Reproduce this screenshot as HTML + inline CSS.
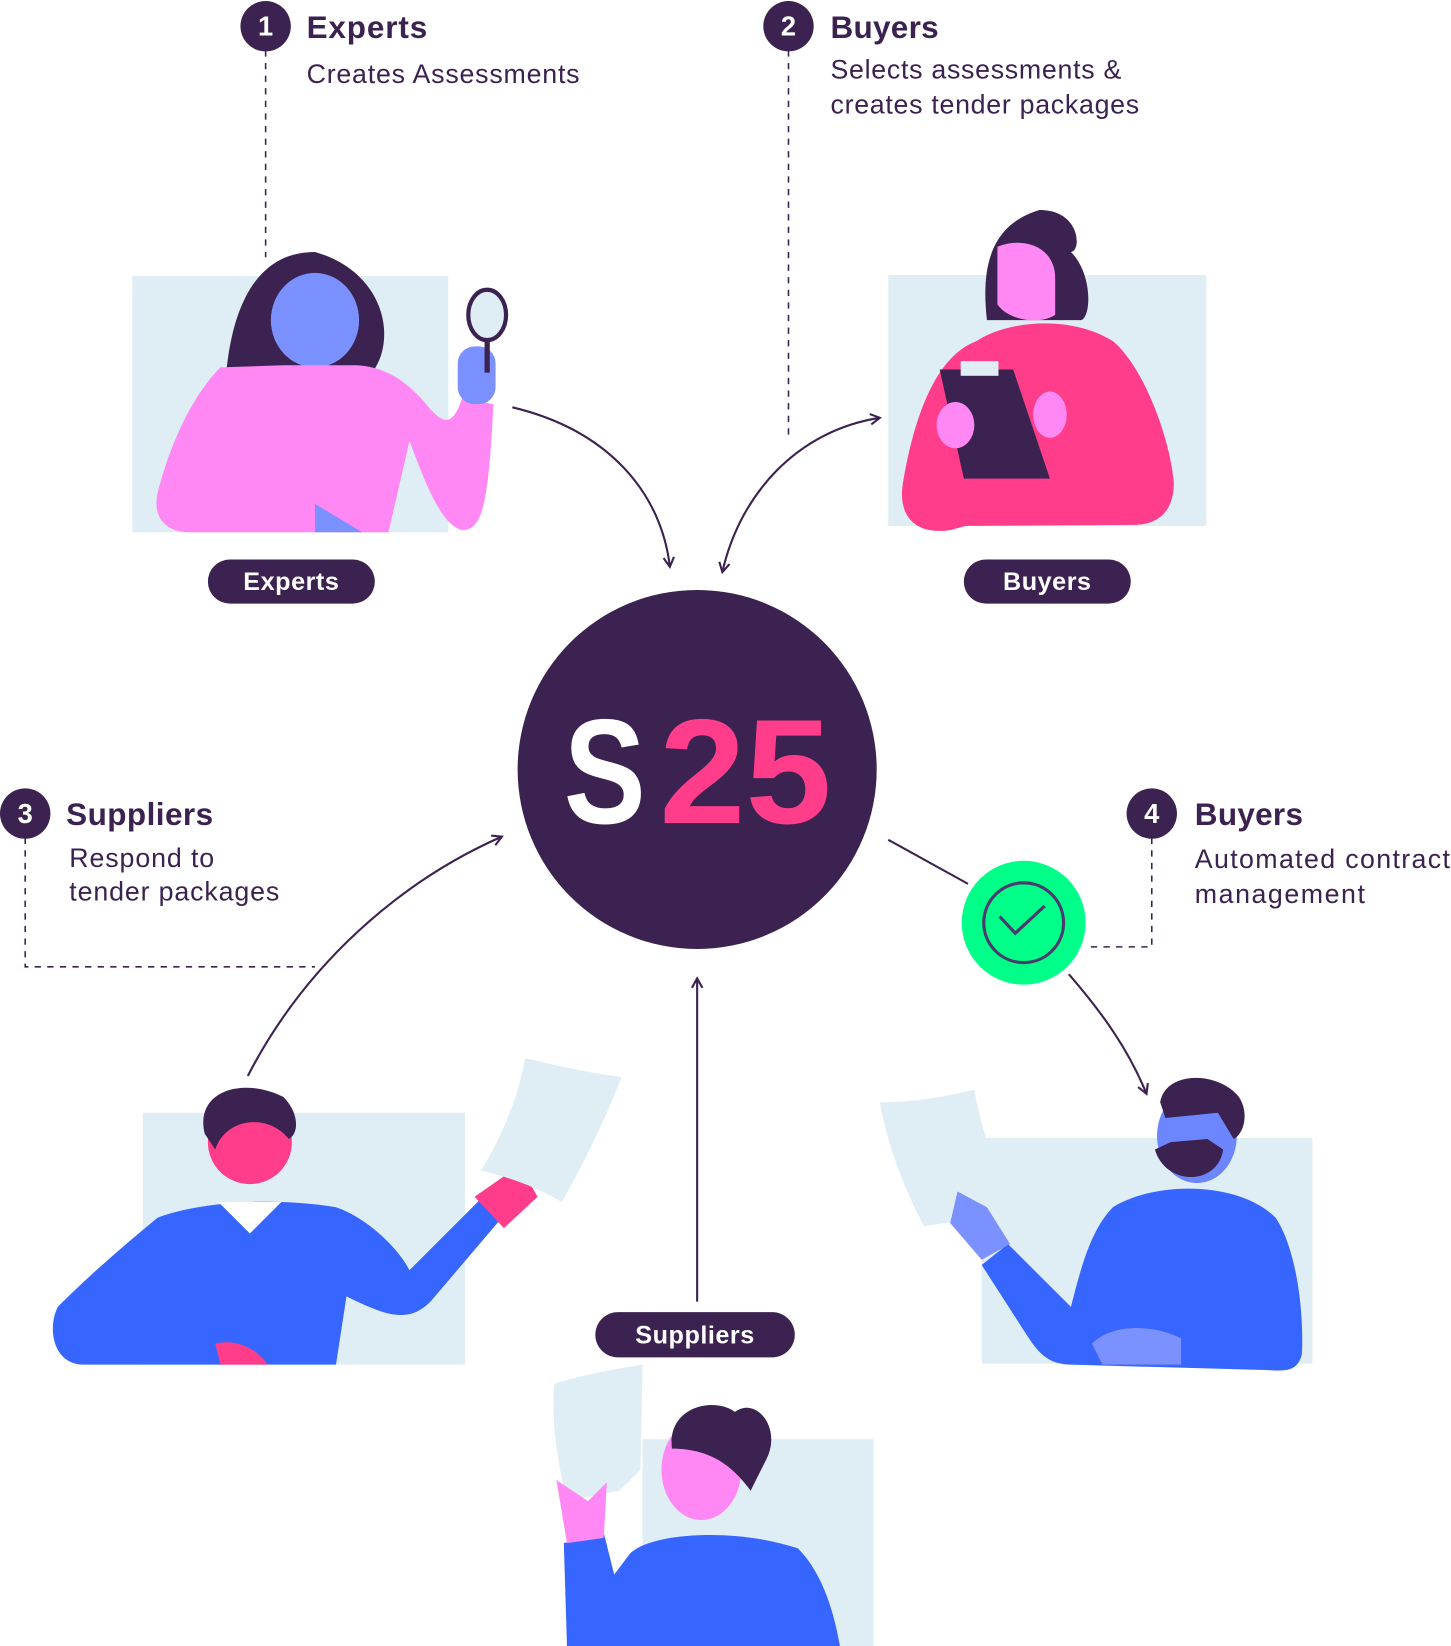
<!DOCTYPE html>
<html><head><meta charset="utf-8"><style>
html,body{margin:0;padding:0;background:#fff;width:1451px;height:1646px;overflow:hidden}
svg{display:block}
text{font-family:"Liberation Sans",sans-serif;fill:#3c2250}
</style></head><body>
<svg width="1451" height="1646" viewBox="0 0 1382 1568" preserveAspectRatio="none" xmlns="http://www.w3.org/2000/svg">
<defs>
<marker id="a" viewBox="0 0 12 12" refX="10" refY="6" markerWidth="12" markerHeight="12" orient="auto-start-reverse" markerUnits="userSpaceOnUse">
<path d="M1 1 L10 6 L1 11" fill="none" stroke="#3c2250" stroke-width="2"/></marker>
</defs>
<g stroke="#3c2250" stroke-width="1.5" stroke-dasharray="6 6" fill="none">
<path d="M253 48 V245"/><path d="M751 48 V415"/>
<path d="M24 798 V921 H300"/><path d="M1097 798 V902 H1035"/>
</g>
<g fill="#dfedf5">
<rect x="126" y="263" width="301" height="244"/>
<rect x="846" y="262" width="303" height="239"/>
<rect x="136" y="1060" width="307" height="240"/>
<rect x="935" y="1084" width="315" height="215"/>
<rect x="612" y="1371" width="220" height="197"/>
</g>
<g stroke="#3c2250" stroke-width="2" fill="none">
<path d="M488 388 C580 410 630 470 638 540" marker-end="url(#a)"/>
<path d="M688 545 C705 470 760 410 838 398" marker-start="url(#a)" marker-end="url(#a)"/>
<path d="M236 1025 C290 920 380 840 478 797" marker-end="url(#a)"/>
<path d="M664 1240 V932" marker-end="url(#a)"/>
<path d="M846 800 L922 842"/>
<path d="M1018 928 C1050 965 1075 1000 1092 1042" marker-end="url(#a)"/>
</g>
<!-- Expert figure -->
<path d="M300 240 C240 240 220 300 215 360 L350 360 C380 330 370 260 300 240Z" fill="#3c2250"/>
<ellipse cx="300" cy="305" rx="42" ry="45" fill="#7b91ff"/>
<path d="M210 350 C180 380 160 430 150 470 C145 495 160 507 180 507 L370 507 L390 420 C405 460 420 500 440 505 C460 505 465 480 470 385 L440 380 C430 410 420 400 410 390 C390 365 370 350 340 348 L270 348 Z" fill="#ff88f5"/>
<path d="M300 480 L345 507 L300 507Z" fill="#7b91ff"/>
<rect x="436" y="330" width="36" height="55" rx="16" fill="#7b91ff"/>
<ellipse cx="464" cy="300" rx="18" ry="24" fill="#dfedf5" stroke="#3c2250" stroke-width="4"/>
<path d="M464 324 V355" stroke="#3c2250" stroke-width="5"/>
<!-- Buyer figure -->
<path d="M990 200 C1030 200 1030 240 1020 240 C1040 260 1040 300 1030 305 L940 305 C935 260 940 215 990 200Z" fill="#3c2250"/>
<path d="M950 235 C975 225 1005 235 1005 265 L1005 300 C990 310 960 305 950 290Z" fill="#ff88f5"/>
<path d="M930 325 C960 305 1020 300 1060 325 C1090 350 1115 420 1118 460 C1118 490 1100 500 1080 500 L920 501 L905 505 C870 510 855 490 860 460 C870 400 890 340 930 325Z" fill="#ff3d8b"/>
<path d="M895 352 L965 352 L1000 456 L918 456Z" fill="#3c2250"/>
<rect x="915" y="344" width="36" height="14" fill="#dfedf5"/>
<ellipse cx="910" cy="405" rx="18" ry="22" fill="#ff88f5"/>
<ellipse cx="1000" cy="395" rx="16" ry="22" fill="#ff88f5"/>
<!-- Supplier left -->
<circle cx="238" cy="1088" r="40" fill="#ff3d8b"/>
<path d="M195 1080 C185 1040 230 1025 270 1045 C285 1060 285 1080 275 1085 C255 1060 215 1065 205 1095Z" fill="#3c2250"/>
<path d="M150 1160 C190 1145 260 1140 320 1150 C350 1160 380 1190 390 1210 L460 1140 L478 1160 L410 1240 C390 1260 370 1255 330 1235 L320 1300 L80 1300 C50 1300 45 1265 55 1245 C90 1210 120 1185 150 1160Z" fill="#3666ff"/>
<path d="M208 1145 L238 1175 L268 1145Z" fill="#fff"/>
<path d="M205 1280 L210 1300 L255 1300 C245 1285 225 1275 205 1280Z" fill="#ff3d8b"/>
<path d="M452 1140 L495 1110 L512 1140 L480 1170Z" fill="#ff3d8b"/>
<path d="M500 1008 C530 1015 560 1022 592 1026 C575 1070 555 1110 535 1145 C510 1130 480 1120 458 1115 C480 1080 495 1040 500 1008Z" fill="#dfedf5"/>
<!-- Supplier bottom -->
<path d="M528 1318 C555 1310 580 1305 612 1300 L610 1400 L590 1420 L540 1430 C530 1390 525 1350 528 1318Z" fill="#dfedf5"/>
<ellipse cx="668" cy="1400" rx="38" ry="48" fill="#ff88f5"/>
<path d="M640 1380 C635 1340 680 1330 700 1345 C720 1330 745 1360 730 1390 C725 1400 720 1410 715 1420 C700 1400 680 1380 640 1380Z" fill="#3c2250"/>
<path d="M600 1480 C620 1460 700 1455 760 1475 C785 1500 795 1540 800 1568 L540 1568 L537 1470 L575 1460 L585 1500Z" fill="#3666ff"/>
<path d="M530 1410 L540 1470 L575 1465 L578 1412 L560 1430Z" fill="#ff88f5"/>
<!-- Buyer right -->
<ellipse cx="1140" cy="1082" rx="38" ry="45" fill="#6b86ff"/>
<path d="M1105 1050 C1110 1020 1160 1020 1180 1045 C1190 1060 1185 1080 1175 1085 L1160 1060 L1110 1065Z" fill="#3c2250"/>
<path d="M1100 1095 C1110 1130 1160 1130 1165 1095 L1150 1085 L1115 1088Z" fill="#3c2250"/>
<path d="M1060 1150 C1100 1125 1180 1125 1215 1160 C1235 1190 1242 1250 1240 1290 C1235 1310 1220 1305 1200 1305 L1020 1300 C1000 1300 990 1290 980 1275 L935 1205 L960 1185 L1020 1245 C1030 1205 1040 1170 1060 1150Z" fill="#3666ff"/>
<path d="M1040 1280 C1060 1260 1100 1262 1125 1275 L1125 1300 L1050 1300Z" fill="#7b91ff"/>
<path d="M838 1050 C870 1050 900 1045 928 1038 C935 1080 950 1120 972 1150 L935 1160 L880 1168 C860 1130 845 1090 838 1050Z" fill="#dfedf5"/>
<path d="M912 1135 L940 1150 L962 1185 L935 1200 L905 1165Z" fill="#7b91ff"/>
<!-- pills -->
<g fill="#3c2250">
<rect x="198" y="533" width="159" height="42" rx="21"/>
<rect x="918" y="533" width="159" height="42" rx="21"/>
<rect x="567" y="1250" width="190" height="43" rx="21.5"/>
</g>
<g font-weight="bold" font-size="24" text-anchor="middle" style="letter-spacing:0.5px">
<text x="277.5" y="562" style="fill:#fff">Experts</text>
<text x="997.5" y="562" style="fill:#fff">Buyers</text>
<text x="662" y="1280" style="fill:#fff">Suppliers</text>
</g>
<!-- center -->
<circle cx="664" cy="733" r="171" fill="#3c2250"/>
<text x="537" y="784" font-size="142" font-weight="bold" textLength="78" lengthAdjust="spacingAndGlyphs" style="fill:#fff">S</text>
<text x="628" y="784" font-size="142" font-weight="bold" textLength="164" lengthAdjust="spacingAndGlyphs" style="fill:#ff3d8b">25</text>
<!-- green check -->
<circle cx="975" cy="879" r="62" fill="#fff"/>
<circle cx="975" cy="879" r="59" fill="#00ff88"/>
<circle cx="975" cy="879" r="38" fill="none" stroke="#4a3a6e" stroke-width="3"/>
<path d="M952 873 L967 889 L995 863" fill="none" stroke="#4a3a6e" stroke-width="3"/>
<!-- numbered callouts -->
<g fill="#3c2250">
<circle cx="253" cy="25" r="24"/><circle cx="751" cy="25" r="24"/>
<circle cx="24" cy="775" r="24"/><circle cx="1097" cy="775" r="24"/>
</g>
<g font-weight="bold" font-size="26" text-anchor="middle">
<text x="253" y="34" style="fill:#fff">1</text><text x="751" y="34" style="fill:#fff">2</text>
<text x="24" y="784" style="fill:#fff">3</text><text x="1097" y="784" style="fill:#fff">4</text>
</g>
<g font-weight="bold" font-size="30">
<text x="292" y="36" textLength="115">Experts</text><text x="791" y="36" textLength="103">Buyers</text>
<text x="63" y="786" textLength="140">Suppliers</text><text x="1138" y="786" textLength="103">Buyers</text>
</g>
<g font-size="25.5">
<text x="292" y="79" textLength="260">Creates Assessments</text>
<text x="791" y="75" textLength="277">Selects assessments &amp;</text>
<text x="791" y="108" textLength="294">creates tender packages</text>
<text x="66" y="826" textLength="138">Respond to</text>
<text x="66" y="858" textLength="200">tender packages</text>
<text x="1138" y="827" textLength="243">Automated contract</text>
<text x="1138" y="860" textLength="162">management</text>
</g>
</svg>
</body></html>
